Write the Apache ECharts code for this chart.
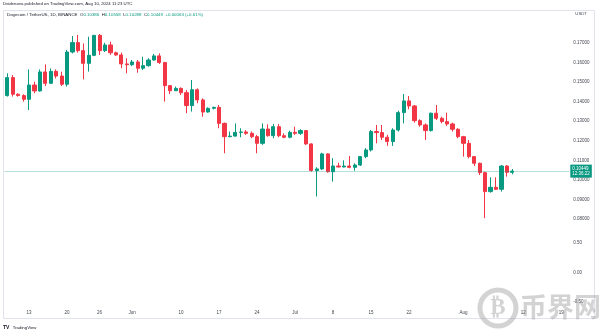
<!DOCTYPE html>
<html>
<head>
<meta charset="utf-8">
<script src="https://cdn.jsdelivr.net/npm/echarts@6/dist/echarts.min.js"></script>
<style>
  html, body { margin: 0; padding: 0; background: #ffffff; }
  #chart { width: 600px; height: 333px; }
</style>
</head>
<body>
<div id="chart"></div>
<script>
// DOGE/USDT daily candles, 9 May 2024 onwards
const startDate = '2024-05-09';
const axisDays = 104; // visible session slots incl. empty right margin

const opens = [
  0.1431, 0.1523, 0.1438, 0.1431, 0.1412, 0.1485, 0.1455, 0.1552, 0.1494, 0.1555,
  0.1531, 0.1489, 0.1654, 0.1702, 0.1661, 0.1596, 0.1637, 0.1739, 0.1661, 0.1690,
  0.1650, 0.1639, 0.1593, 0.1589, 0.1603, 0.1571, 0.1584, 0.1613, 0.1634, 0.1600,
  0.1482, 0.1456, 0.1468, 0.1446, 0.1380, 0.1461, 0.1409, 0.1347, 0.1366, 0.1371,
  0.1289, 0.1221, 0.1224, 0.1243, 0.1245, 0.1238, 0.1221, 0.1187, 0.1260, 0.1226,
  0.1272, 0.1226, 0.1218, 0.1243, 0.1238, 0.1252, 0.1184, 0.1048, 0.1056, 0.1133,
  0.1042, 0.1071, 0.1066, 0.1071, 0.1064, 0.1076, 0.1119, 0.1153, 0.1247, 0.1242,
  0.1218, 0.1196, 0.1255, 0.1344, 0.1404, 0.1378, 0.1303, 0.1281, 0.1252, 0.1341,
  0.1315, 0.1298, 0.1286, 0.1259, 0.1221, 0.1187, 0.1119, 0.1085, 0.1037, 0.0940,
  0.0962, 0.0952, 0.1071, 0.10386
];
const highs = [
  0.1545, 0.1536, 0.1443, 0.1438, 0.1565, 0.1502, 0.1565, 0.1591, 0.1570, 0.1565,
  0.1553, 0.1664, 0.1736, 0.1741, 0.1698, 0.1732, 0.1741, 0.1746, 0.1701, 0.1707,
  0.1656, 0.1651, 0.1622, 0.1613, 0.1613, 0.1630, 0.1622, 0.1644, 0.1647, 0.1604,
  0.1485, 0.1477, 0.1473, 0.1460, 0.1511, 0.1468, 0.1417, 0.1371, 0.1374, 0.1383,
  0.1293, 0.1247, 0.1289, 0.1264, 0.1255, 0.1247, 0.1230, 0.1289, 0.1284, 0.1286,
  0.1286, 0.1238, 0.1252, 0.1272, 0.1259, 0.1255, 0.1187, 0.1065, 0.1139, 0.1136,
  0.1111, 0.1088, 0.1100, 0.1122, 0.1085, 0.1122, 0.1162, 0.1255, 0.1281, 0.1281,
  0.1230, 0.1264, 0.1354, 0.1439, 0.1429, 0.1383, 0.1310, 0.1289, 0.1344, 0.1383,
  0.1323, 0.1344, 0.1293, 0.1264, 0.1225, 0.1204, 0.1122, 0.1088, 0.1042, 0.1013,
  0.1013, 0.1076, 0.1076, 0.10558
];
const lows = [
  0.1426, 0.1426, 0.1426, 0.1400, 0.1357, 0.1443, 0.1451, 0.1480, 0.1490, 0.1519,
  0.1480, 0.1477, 0.1647, 0.1651, 0.1514, 0.1554, 0.1633, 0.1639, 0.1654, 0.1639,
  0.1634, 0.1571, 0.1545, 0.1582, 0.1548, 0.1562, 0.1579, 0.1610, 0.1593, 0.1400,
  0.1439, 0.1455, 0.1434, 0.1341, 0.1349, 0.1392, 0.1323, 0.1344, 0.1360, 0.1264,
  0.1136, 0.1218, 0.1221, 0.1218, 0.1230, 0.1213, 0.1136, 0.1179, 0.1221, 0.1213,
  0.1218, 0.1213, 0.1213, 0.1230, 0.1230, 0.1179, 0.1042, 0.0915, 0.1051, 0.1037,
  0.0991, 0.1064, 0.1064, 0.1059, 0.1047, 0.1071, 0.1111, 0.1145, 0.1187, 0.1204,
  0.1174, 0.1174, 0.1247, 0.1289, 0.1361, 0.1293, 0.1272, 0.1204, 0.1247, 0.1306,
  0.1289, 0.1276, 0.1247, 0.1213, 0.1119, 0.1110, 0.1071, 0.1025, 0.0804, 0.0935,
  0.0948, 0.0940, 0.1017, 0.10288
];
const closes = [
  0.1523, 0.1438, 0.1431, 0.1412, 0.1485, 0.1455, 0.1552, 0.1494, 0.1555, 0.1531,
  0.1489, 0.1654, 0.1702, 0.1661, 0.1596, 0.1637, 0.1739, 0.1661, 0.1690, 0.1650,
  0.1639, 0.1593, 0.1589, 0.1603, 0.1571, 0.1584, 0.1613, 0.1634, 0.1600, 0.1482,
  0.1456, 0.1468, 0.1446, 0.1380, 0.1461, 0.1409, 0.1347, 0.1366, 0.1371, 0.1289,
  0.1221, 0.1224, 0.1243, 0.1245, 0.1238, 0.1221, 0.1187, 0.1260, 0.1226, 0.1272,
  0.1226, 0.1218, 0.1243, 0.1238, 0.1252, 0.1184, 0.1048, 0.1056, 0.1133, 0.1042,
  0.1071, 0.1066, 0.1071, 0.1064, 0.1076, 0.1119, 0.1153, 0.1247, 0.1242, 0.1218,
  0.1196, 0.1255, 0.1344, 0.1404, 0.1378, 0.1303, 0.1281, 0.1252, 0.1341, 0.1315,
  0.1298, 0.1286, 0.1259, 0.1221, 0.1187, 0.1119, 0.1085, 0.1037, 0.0940, 0.0962,
  0.0952, 0.1071, 0.10386, 0.10449
];

// time-scale tick marks and their captions
const tickDates  = ['2024-05-13', '2024-05-20', '2024-05-26', '2024-06-01', '2024-06-10', '2024-06-17', '2024-06-24',
                    '2024-07-01', '2024-07-08', '2024-07-15', '2024-07-22', '2024-08-01', '2024-08-12', '2024-08-19'];
const tickLabels = ['13', '20', '26', 'Jun', '10', '17', '24', 'Jul', '8', '15', '22', 'Aug', '12', '19'];

const timerText = '12:36:22';

// ---- helpers ----
function buildDates(start, n) {
  const out = [];
  const t0 = Date.parse(start + 'T00:00:00Z');
  for (let i = 0; i < n; i++) {
    out.push(new Date(t0 + i * 86400000).toISOString().slice(0, 10));
  }
  return out;
}
const dates = buildDates(startDate, axisDays);
const candles = opens.map((o, i) => [o, closes[i], lows[i], highs[i]]);

const last = closes.length - 1;
const lastClose = closes[last];
const prevClose = closes[last - 1];
const chg = lastClose - prevClose;
const chgPct = chg / prevClose * 100;
const sign = chg >= 0 ? '+' : '-';

const UP = '#089981';
const DOWN = '#f23645';
const TXT = '#434651';
const FONT = 'Liberation Sans, Arial, sans-serif';
const MARK = 'rgba(150,150,150,0.42)';

const chart = echarts.init(document.getElementById('chart'), null, { renderer: 'canvas' });

chart.setOption({
  animation: false,
  backgroundColor: '#ffffff',
  textStyle: { fontFamily: FONT },
  title: [
    {
      text: 'Dvidenova published on TradingView.com, Aug 10, 2024 11:23 UTC',
      left: 3, top: 2, padding: 0,
      textStyle: { fontSize: 4.3, fontWeight: 'normal', color: '#131722', fontFamily: FONT }
    },
    {
      text: '{n|Dogecoin / TetherUS, 1D, BINANCE}  {k|O}{v|' + opens[last].toFixed(5) + '}  {k|H}{v|' + highs[last].toFixed(5) +
            '}  {k|L}{v|' + lows[last].toFixed(5) + '}  {k|C}{v|' + lastClose.toFixed(5) + '}  {v|' + sign + Math.abs(chg).toFixed(5) +
            ' (' + sign + Math.abs(chgPct).toFixed(2) + '%)}',
      left: 7, top: 13, padding: 0,
      textStyle: {
        fontSize: 4.4, fontWeight: 'normal', color: '#131722', fontFamily: FONT,
        rich: {
          n: { fontSize: 4.4, color: '#131722', fontFamily: FONT },
          k: { fontSize: 4.4, color: '#131722', fontFamily: FONT },
          v: { fontSize: 4.4, color: UP, fontFamily: FONT }
        }
      }
    }
  ],
  grid: [
    { left: 4.6, width: 564.7, top: 28, height: 191 },
    { left: 4.6, width: 564.7, top: 228, height: 74 }
  ],
  xAxis: [
    {
      type: 'category', gridIndex: 0, data: dates, boundaryGap: true,
      axisLine: { show: false }, axisTick: { show: false }, axisLabel: { show: false }, splitLine: { show: false }
    },
    {
      type: 'category', gridIndex: 1, data: dates, boundaryGap: true,
      axisLine: { show: false }, axisTick: { show: false }, splitLine: { show: false },
      axisLabel: {
        fontSize: 4.5, color: TXT, margin: 8, fontFamily: FONT,
        interval: (idx, val) => tickDates.indexOf(val) >= 0,
        formatter: (val) => {
          const i = tickDates.indexOf(val);
          return i >= 0 ? tickLabels[i] : '';
        }
      }
    }
  ],
  yAxis: [
    {
      type: 'value', gridIndex: 0, position: 'right', scale: true,
      min: 0.08, max: 0.17767, interval: 0.01,
      name: 'USDT', nameLocation: 'end', nameGap: 12,
      nameTextStyle: { fontSize: 4.3, color: TXT, align: 'left', padding: [0, 0, 0, 6], fontFamily: FONT },
      axisLine: { show: false }, axisTick: { show: false }, splitLine: { show: false },
      axisLabel: {
        fontSize: 4.5, color: TXT, margin: 4, fontFamily: FONT,
        formatter: (v) => {
          const r = Math.round(v * 100) / 100;
          return Math.abs(v - r) < 1e-6 ? r.toFixed(5) : '';
        }
      }
    },
    {
      type: 'value', gridIndex: 1, position: 'right',
      min: -0.5, max: 0.75, interval: 0.5,
      axisLine: { show: false }, axisTick: { show: false }, splitLine: { show: false },
      axisLabel: {
        fontSize: 4.5, color: TXT, margin: 4, fontFamily: FONT,
        formatter: (v) => {
          const r = Math.round(v * 2) / 2;
          return Math.abs(v - r) < 1e-6 ? r.toFixed(2) : '';
        }
      }
    }
  ],
  series: [
    {
      type: 'candlestick',
      xAxisIndex: 0, yAxisIndex: 0,
      data: candles,
      barWidth: '68%',
      silent: true,
      itemStyle: {
        color: UP, color0: DOWN,
        borderColor: UP, borderColor0: DOWN,
        borderWidth: 1
      },
      markLine: {
        silent: true,
        precision: 5,
        symbol: ['none', 'none'],
        lineStyle: { color: 'rgba(8,153,129,0.3)', type: 'solid', width: 1 },
        label: {
          show: true, position: 'end', distance: 1,
          formatter: () => lastClose.toFixed(5) + '\n' + timerText,
          backgroundColor: UP, color: '#ffffff',
          fontSize: 4.5, lineHeight: 5.5, padding: [1, 2, 1, 2], fontFamily: FONT
        },
        data: [{ yAxis: lastClose }]
      }
    }
  ],
  graphic: [
    // widget frame
    {
      type: 'rect', silent: true, z: 0,
      shape: { x: 3.5, y: 10.5, width: 591, height: 308 },
      style: { fill: 'none', stroke: '#e0e3eb', lineWidth: 1 }
    },
    // site watermark
    {
      type: 'circle', silent: true, z: 50,
      shape: { cx: 498, cy: 308, r: 18 },
      style: { fill: 'none', stroke: MARK, lineWidth: 5 }
    },
    {
      type: 'text', silent: true, z: 50,
      style: {
        text: '₿', x: 498, y: 308, textAlign: 'center', textVerticalAlign: 'middle',
        fontSize: 23, fontWeight: 'bold', fill: MARK, fontFamily: 'DejaVu Sans'
      }
    },
    {
      type: 'text', silent: true, z: 50,
      style: {
        text: '币界网', x: 520, y: 307, textVerticalAlign: 'middle',
        fontSize: 27, fontWeight: 'bold', fill: MARK, fontFamily: 'Noto Sans CJK SC'
      }
    },
    // footer brand
    {
      type: 'text', silent: true, z: 50,
      style: {
        text: '{b|TV} {t|TradingView}', x: 3, y: 322,
        rich: {
          b: { fontSize: 5, fontWeight: 'bold', fill: '#131722', fontFamily: FONT },
          t: { fontSize: 4.3, fill: '#131722', fontFamily: FONT }
        }
      }
    }
  ]
});
</script>
</body>
</html>
